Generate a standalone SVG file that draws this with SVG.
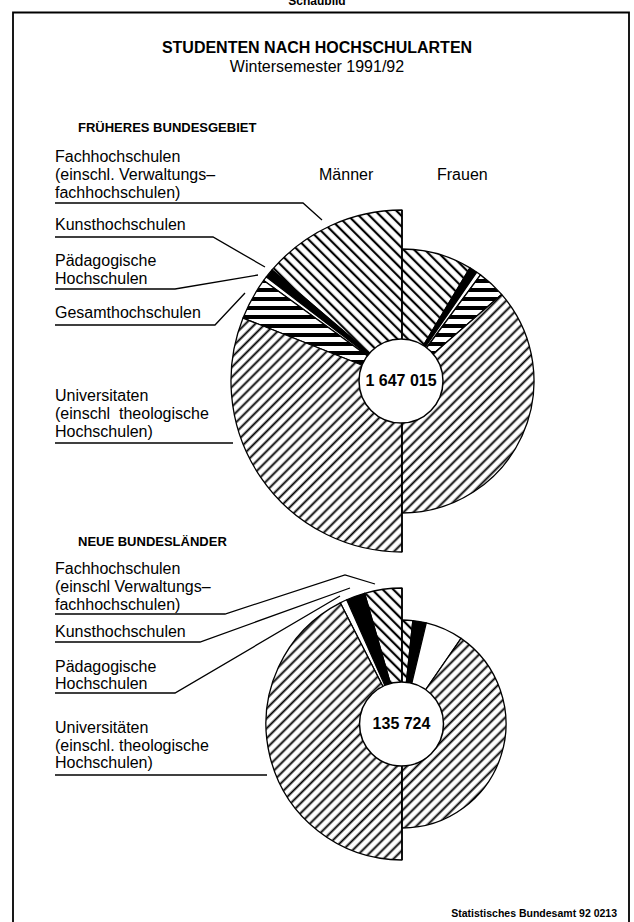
<svg xmlns="http://www.w3.org/2000/svg" width="634" height="922" viewBox="0 0 634 922">
<style>
text{font-family:"Liberation Sans",Arial,Helvetica,sans-serif;fill:#000}
.lbl{font-size:16px}
.b{font-weight:bold}
.ptr{fill:none;stroke:#000;stroke-width:1.3}
.w{stroke:#000;stroke-width:1.3;stroke-linejoin:round}
.fach{fill:url(#hBack)}
.univ{fill:url(#hFwd)}
.ges{fill:url(#hHor)}
.kunst{fill:#000}
.paed{fill:#fff}
</style>
<defs>
<pattern id="hBack" width="7.5" height="7.5" patternUnits="userSpaceOnUse" patternTransform="rotate(45)"><rect width="7.5" height="7.5" fill="#fff"/><rect y="2.6" width="7.5" height="2.2" fill="#000"/></pattern>
<pattern id="hFwd" width="7" height="7" patternUnits="userSpaceOnUse" patternTransform="rotate(-45)"><rect width="7" height="7" fill="#fff"/><rect y="2.6" width="7" height="1.9" fill="#000"/></pattern>
<pattern id="hHor" width="9" height="9" patternUnits="userSpaceOnUse"><rect width="9" height="9" fill="#fff"/><rect y="0" width="9" height="4" fill="#000"/></pattern>
</defs>
<rect width="634" height="922" fill="#fff"/>
<text x="317" y="5" text-anchor="middle" class="b" font-size="12">Schaubild</text>
<path d="M13,940 V12.5 H629 V940" fill="none" stroke="#000" stroke-width="1.8"/>
<g id="title">
<text x="317" y="53" text-anchor="middle" class="b" font-size="16">STUDENTEN NACH HOCHSCHULARTEN</text>
<text x="317" y="72" text-anchor="middle" font-size="16">Wintersemester 1991/92</text>
</g>
<text x="78" y="132" class="b" font-size="13">FRÜHERES BUNDESGEBIET</text>
<text x="319" y="180" class="lbl">Männer</text>
<text x="437" y="180" class="lbl">Frauen</text>

<g id="pie1">
<g id="pie1-maenner">
<path class="w fach" d="M402,381 L402,210 A171,171 0 0 0 272.0,269.95 Z"/>
<path class="w kunst" d="M402,381 L272.0,269.95 A171,171 0 0 0 266.33,276.9 Z"/>
<path class="w paed" d="M402,381 L266.33,276.9 A171,171 0 0 0 263.66,280.49 Z"/>
<path class="w ges" d="M402,381 L263.66,280.49 A171,171 0 0 0 243.0,318.05 Z"/>
<path class="w univ" d="M402,381 L243.0,318.05 A171,171 0 0 0 402,552 Z"/>
</g>
<g id="pie1-frauen">
<path class="w fach" d="M402,381 L402,249 A132,132 0 0 1 469.98,267.85 Z"/>
<path class="w kunst" d="M402,381 L469.98,267.85 A132,132 0 0 1 476.77,272.22 Z"/>
<path class="w paed" d="M402,381 L476.77,272.22 A132,132 0 0 1 480.51,274.89 Z"/>
<path class="w ges" d="M402,381 L480.51,274.89 A132,132 0 0 1 501.62,294.39 Z"/>
<path class="w univ" d="M402,381 L501.62,294.39 A132,132 0 0 1 402,513 Z"/>
</g>
<line x1="402" y1="210" x2="402" y2="552" stroke="#000" stroke-width="1.6"/>
<circle cx="401" cy="381" r="42" fill="#fff" stroke="#000" stroke-width="1.5"/>
<text x="401" y="386" text-anchor="middle" class="b" font-size="16">1 647 015</text>
</g>

<g id="labels1">
<text class="lbl" x="55" y="162">Fachhochschulen</text>
<text class="lbl" x="55" y="180">(einschl. Verwaltungs–</text>
<text class="lbl" x="55" y="198">fachhochschulen)</text>
<text class="lbl" x="55" y="230">Kunsthochschulen</text>
<text class="lbl" x="55" y="266">Pädagogische</text>
<text class="lbl" x="55" y="284">Hochschulen</text>
<text class="lbl" x="55" y="318">Gesamthochschulen</text>
<text class="lbl" x="55" y="401">Universitaten</text>
<text class="lbl" x="55" y="419">(einschl&#160; theologische</text>
<text class="lbl" x="55" y="437">Hochschulen)</text>
</g>

<text x="78" y="546" class="b" font-size="13">NEUE BUNDESLÄNDER</text>

<g id="pie2">
<g id="pie2-maenner">
<path class="w fach" d="M402,724 L402,588 A136,136 0 0 0 364.52,593.26 Z"/>
<path class="w kunst" d="M402,724 L364.52,593.26 A136,136 0 0 0 346.69,599.76 Z"/>
<path class="w paed" d="M402,724 L346.69,599.76 A136,136 0 0 0 340.26,602.82 Z"/>
<path class="w univ" d="M402,724 L340.26,602.82 A136,136 0 0 0 402,860 Z"/>
</g>
<g id="pie2-frauen">
<path class="w fach" d="M402,724 L402,620 A104,104 0 0 1 412.87,620.57 Z"/>
<path class="w kunst" d="M402,724 L412.87,620.57 A104,104 0 0 1 426.28,622.87 Z"/>
<path class="w paed" d="M402,724 L426.28,622.87 A104,104 0 0 1 461.05,638.40 Z"/>
<path class="w univ" d="M402,724 L461.05,638.40 A104,104 0 0 1 402,828 Z"/>
</g>
<line x1="402" y1="588" x2="402" y2="860" stroke="#000" stroke-width="1.6"/>
<circle cx="401.5" cy="724" r="42" fill="#fff" stroke="#000" stroke-width="1.5"/>
<text x="401.5" y="729" text-anchor="middle" class="b" font-size="16">135 724</text>
</g>

<g id="labels2">
<text class="lbl" x="55" y="574">Fachhochschulen</text>
<text class="lbl" x="55" y="592">(einschl Verwaltungs–</text>
<text class="lbl" x="55" y="610">fachhochschulen)</text>
<text class="lbl" x="55" y="637">Kunsthochschulen</text>
<text class="lbl" x="55" y="672">Pädagogische</text>
<text class="lbl" x="55" y="689">Hochschulen</text>
<text class="lbl" x="55" y="733">Universitäten</text>
<text class="lbl" x="55" y="751">(einschl. theologische</text>
<text class="lbl" x="55" y="768">Hochschulen)</text>
</g>

<g id="connectors">
<path class="ptr" d="M55,203 H303 L322,220"/>
<path class="ptr" d="M55,237 H213 L265,267"/>
<path class="ptr" d="M55,289 H175 L258,275"/>
<path class="ptr" d="M55,325 H215 L245,293"/>
<path class="ptr" d="M55,443 H233"/>
<path class="ptr" d="M55,614 H225 L345,575 L375,584"/>
<path class="ptr" d="M55,642 H200 L350,588"/>
<path class="ptr" d="M55,693 H175 L340,596"/>
<path class="ptr" d="M55,775 H267"/>
</g>

<text x="617" y="917" text-anchor="end" class="b" font-size="10.5">Statistisches Bundesamt 92 0213</text>
</svg>
